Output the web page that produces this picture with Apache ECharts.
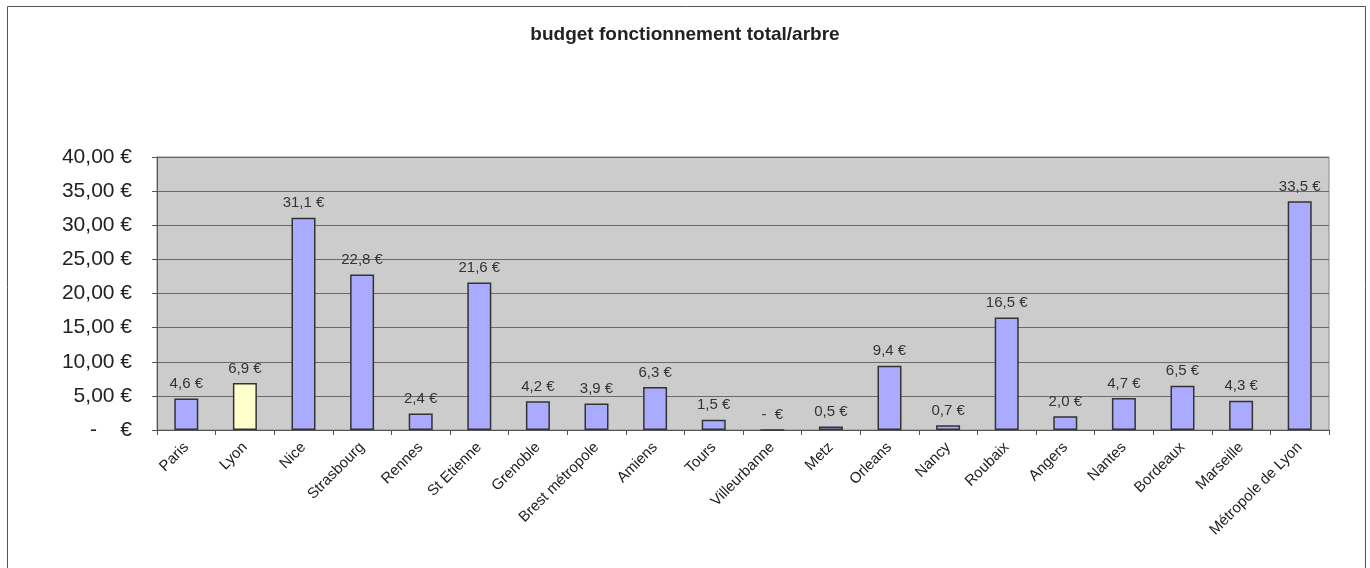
<!DOCTYPE html>
<html>
<head>
<meta charset="utf-8">
<script src="https://cdn.jsdelivr.net/npm/echarts@6/dist/echarts.min.js"></script>
<style>
  html, body { margin: 0; padding: 0; background: #fff; }
  #chart { width: 1370px; height: 568px; }
</style>
</head>
<body>
<div id="chart"></div>
<script>
// budget de fonctionnement total par arbre, par ville
const villes = ['Paris', 'Lyon', 'Nice', 'Strasbourg', 'Rennes', 'St Etienne', 'Grenoble',
  'Brest métropole', 'Amiens', 'Tours', 'Villeurbanne', 'Metz', 'Orleans', 'Nancy',
  'Roubaix', 'Angers', 'Nantes', 'Bordeaux', 'Marseille', 'Métropole de Lyon'];
const budgetParArbre = [4.6, 6.9, 31.1, 22.8, 2.4, 21.6, 4.2, 3.9, 6.3, 1.5, 0, 0.5, 9.4, 0.7,
  16.5, 2.0, 4.7, 6.5, 4.3, 33.5];
const villeMiseEnAvant = 'Lyon';

const FONT = '"Liberation Sans", Arial, sans-serif';

// format monétaire : virgule décimale, zéro affiché comme un tiret
function euro(v, decimals, zero) {
  if (v === 0) return zero;
  return v.toFixed(decimals).replace('.', ',') + ' €';
}

const chart = echarts.init(document.getElementById('chart'), null, { renderer: 'canvas' });

chart.setOption({
  animation: false,
  backgroundColor: '#ffffff',
  textStyle: { fontFamily: FONT },
  graphic: [{
    type: 'rect',
    shape: { x: 7.5, y: 6.5, width: 1358, height: 600 },
    style: { fill: 'none', stroke: '#555', lineWidth: 1 },
    z: -10
  }],
  title: {
    text: 'budget fonctionnement total/arbre',
    left: 'center',
    top: 20,
    textStyle: { fontSize: 19, fontWeight: 'bold', color: '#222', fontFamily: FONT }
  },
  grid: {
    left: 157, right: 41, top: 157, bottom: 138,
    show: true,
    backgroundColor: '#cccccc',
    borderColor: '#8a8a8a',
    borderWidth: 1
  },
  xAxis: {
    type: 'category',
    data: villes,
    axisLine: { lineStyle: { color: '#555', width: 1 } },
    axisTick: { show: true, length: 5, lineStyle: { color: '#555' } },
    axisLabel: {
      rotate: 45,
      interval: 0,
      margin: 15,
      fontSize: 15,
      color: '#222',
      fontFamily: FONT
    }
  },
  yAxis: {
    type: 'value',
    min: 0,
    max: 40,
    interval: 5,
    axisLine: { show: true, lineStyle: { color: '#555', width: 1 } },
    axisTick: { show: true, length: 5, lineStyle: { color: '#555' } },
    splitLine: { lineStyle: { color: '#6a6a6a', width: 1 } },
    axisLabel: {
      margin: 25,
      fontSize: 21,
      color: '#222',
      fontFamily: FONT,
      formatter: v => euro(v, 2, '-    €')
    }
  },
  series: [{
    type: 'bar',
    barWidth: 24,
    data: budgetParArbre.map((v, i) => ({
      value: v,
      itemStyle: { color: villes[i] === villeMiseEnAvant ? '#ffffcc' : '#aaaaff' }
    })),
    itemStyle: { borderColor: '#333', borderWidth: 1.5 },
    label: {
      show: true,
      position: 'top',
      distance: 7,
      fontSize: 15,
      color: '#333',
      fontFamily: FONT,
      formatter: p => euro(p.value, 1, '-  €')
    }
  }]
});
</script>
</body>
</html>
